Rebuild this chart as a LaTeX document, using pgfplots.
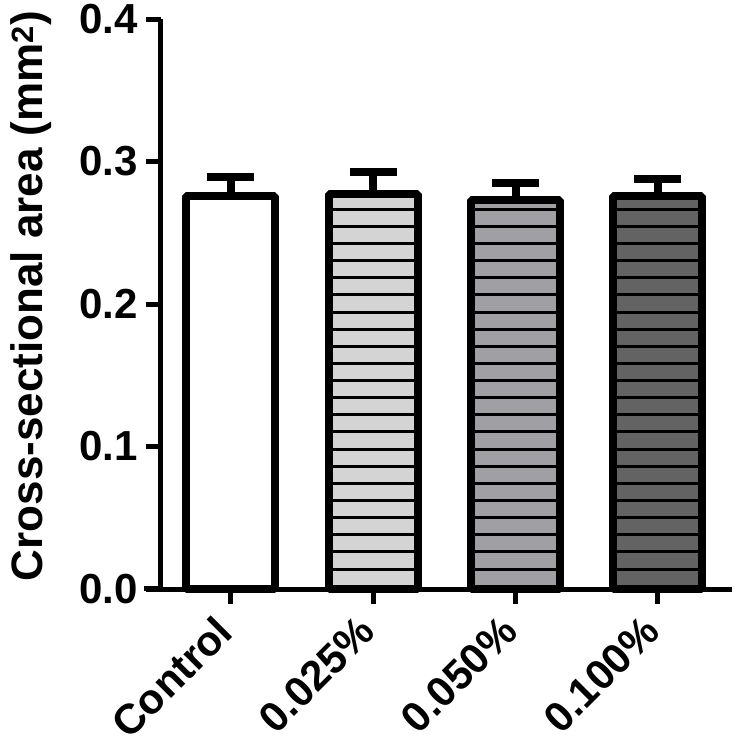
\documentclass[border=0pt]{standalone}
\usepackage{fontspec}
\setmainfont{Liberation Sans}
\usepackage{pgfplots}
\pgfplotsset{compat=1.18}
\definecolor{gA}{RGB}{212,212,212}
\definecolor{gB}{RGB}{160,160,164}
\definecolor{gC}{RGB}{99,99,99}
\newcommand\bigf{\fontsize{42}{48}\selectfont\bfseries}
\newcommand\labf{\fontsize{44}{50}\selectfont\bfseries}
\newcommand\hatchlines{%
  \pgfpointanchor{path picture bounding box}{south west}\pgfgetlastxy{\hxa}{\hya}%
  \pgfpointanchor{path picture bounding box}{north east}\pgfgetlastxy{\hxb}{\hyb}%
  \ifdim\hxa<\hxb\relax\ifdim\hya<\hyb\relax
    \pgfsetlinewidth{3pt}\pgfsetstrokecolor{black}%
    \foreach \k in {0,...,35}{%
      \pgfpathmoveto{\pgfpoint{\hxa-5pt}{\hya+20pt+\k*17.13pt}}%
      \pgfpathlineto{\pgfpoint{\hxb+5pt}{\hya+20pt+\k*17.13pt}}%
      \pgfusepath{stroke}}%
  \fi\fi}
\pgfplotsset{
  mybar/.style={ybar, bar width=89pt, bar shift=0pt, draw=black, line width=8pt, line join=bevel,
    error bars/y dir=plus, error bars/y explicit,
    error bars/error bar style={line width=8pt, black, solid},
    error bars/error mark options={rotate=90, line width=8pt, mark size=23.5pt, black, solid}},
  hatch/.style={fill=#1, path picture={\hatchlines}}
}
\begin{document}
\begin{tikzpicture}
\begin{axis}[
  scale only axis, width=571pt, height=570pt,
  xmin=-0.49, xmax=3.52, ymin=0, ymax=0.4,
  axis x line*=bottom, axis y line*=left,
  axis line style={line width=5pt},
  major tick style={line width=5pt, black},
  major tick length=15pt, tick align=outside,
  xtick={0,1,2,3},
  xticklabels={Control,0.025\%,0.050\%,0.100\%},
  ytick={0,0.1,0.2,0.3,0.4},
  ticklabel style={font=\bigf},
  /pgf/number format/assume math mode=true,
  yticklabel style={/pgf/number format/.cd, fixed, fixed zerofill, precision=1, /tikz/.cd, inner sep=8pt},
  xticklabel style={yshift=-18pt, xshift=-4pt, rotate=45, anchor=east, inner sep=3pt},
  ylabel={Cross-sectional area (mm\textsuperscript{2})},
  ylabel style={font=\labf, at={(axis description cs:0,0.5)}, anchor=center, xshift=8pt, yshift=130pt},
  clip=false,
]
\addplot[mybar, fill=white] coordinates {(0,0.276) +- (0,0.0133)};
\addplot[mybar, hatch=gA] coordinates {(1,0.277) +- (0,0.0155)};
\addplot[mybar, hatch=gB] coordinates {(2,0.2732) +- (0,0.012)};
\addplot[mybar, hatch=gC] coordinates {(3,0.276) +- (0,0.012)};
\end{axis}
\draw[line width=5pt] (-17pt,0) -- (0,0);
\pgfresetboundingbox
\path (-161pt,-153pt) rectangle (574pt,589pt);
\end{tikzpicture}
\end{document}
